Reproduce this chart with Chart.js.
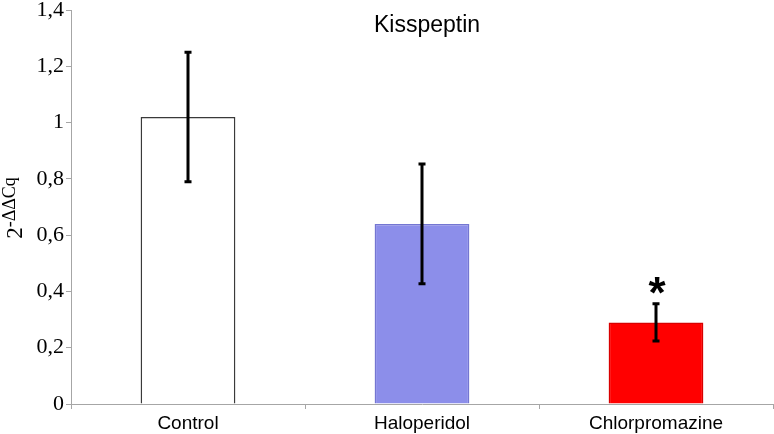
<!DOCTYPE html>
<html>
<head>
<meta charset="utf-8">
<script src="https://cdn.jsdelivr.net/npm/chart.js@4"></script>
<style>
  html, body { margin: 0; padding: 0; background: #fff; }
  #wrap { width: 774px; height: 434px; }
</style>
</head>
<body>
<div id="wrap"><canvas id="c" width="774" height="434"></canvas></div>
<script>
// Valores (expresión relativa 2^-ΔΔCq, media ± error)
var grupos = ["Control", "Haloperidol", "Chlorpromazine"];
var medias = [1.02, 0.64, 0.29];
var errores = [0.23, 0.213, 0.066];
var significativo = [false, false, true];
var ticksY = [0, 0.2, 0.4, 0.6, 0.8, 1, 1.2, 1.4];

var relleno = ["#ffffff", "#8c8eea", "#ff0000"];
var borde = ["#3a3a3a", "#7476d2", "#d80000"];

var SERIF = "'Liberation Serif', 'Times New Roman', serif";
var SANS = "'Liberation Sans', Arial, sans-serif";

// Barras de error, título interior, asterisco y etiqueta del eje Y con superíndice
var extras = {
    id: "extras",
    afterDatasetsDraw: function (chart) {
        var ctx = chart.ctx;
        var x = chart.scales.x, y = chart.scales.y;
        ctx.save();
        ctx.strokeStyle = "#000";
        ctx.lineWidth = 3;
        for (var i = 0; i < medias.length; i++) {
            var cx = x.getPixelForValue(i);
            var yt = y.getPixelForValue(medias[i] + errores[i]);
            var yb = y.getPixelForValue(medias[i] - errores[i]);
            ctx.beginPath();
            ctx.moveTo(cx, yt); ctx.lineTo(cx, yb);
            ctx.moveTo(cx - 3.5, yt); ctx.lineTo(cx + 3.5, yt);
            ctx.moveTo(cx - 3.5, yb); ctx.lineTo(cx + 3.5, yb);
            ctx.stroke();
            if (significativo[i]) {
                ctx.fillStyle = "#000";
                ctx.font = "bold 44px " + SANS;
                ctx.textAlign = "center";
                ctx.textBaseline = "alphabetic";
                ctx.fillText("*", cx + 1, yt + 4);
            }
        }
        // título
        ctx.fillStyle = "#000";
        ctx.font = "23px " + SANS;
        ctx.textAlign = "center";
        ctx.textBaseline = "middle";
        ctx.fillText("Kisspeptin", 427, 26);
        // etiqueta del eje Y: 2^-ΔΔCq
        ctx.translate(22, 208);
        ctx.rotate(-Math.PI / 2);
        ctx.textAlign = "left";
        ctx.textBaseline = "alphabetic";
        ctx.font = "23px " + SERIF;
        var wBase = ctx.measureText("2").width;
        ctx.font = "18px " + SERIF;
        var wSup = ctx.measureText("-ΔΔCq").width;
        var x0 = -(wBase + wSup) / 2;
        ctx.font = "23px " + SERIF;
        ctx.fillText("2", x0, 0);
        ctx.font = "18px " + SERIF;
        ctx.fillText("-ΔΔCq", x0 + wBase, -7);
        ctx.restore();
    }
};

new Chart(document.getElementById("c"), {
    type: "bar",
    data: {
        labels: grupos,
        datasets: [{
            data: medias,
            backgroundColor: relleno,
            borderColor: borde,
            borderWidth: 1.5,
            borderSkipped: "bottom",
            categoryPercentage: 1,
            barPercentage: 0.405
        }]
    },
    options: {
        responsive: false,
        animation: false,
        devicePixelRatio: 1,
        layout: { padding: { top: 10, right: 1, left: 0, bottom: 0 } },
        plugins: { legend: { display: false }, tooltip: { enabled: false } },
        scales: {
            x: {
                offset: true,
                grid: { offset: true, drawOnChartArea: false, color: "#a6a6a6", tickLength: 5 },
                border: { color: "#a6a6a6", width: 1 },
                ticks: {
                    color: "#000",
                    font: { family: SANS, size: 19 },
                    padding: 3
                },
                afterFit: function (s) { s.height = 30; }
            },
            y: {
                min: 0, max: 1.4,
                afterBuildTicks: function (s) {
                    s.ticks = ticksY.map(function (v) { return { value: v }; });
                },
                grid: { drawOnChartArea: false, color: "#a6a6a6", tickLength: 5 },
                border: { color: "#a6a6a6", width: 1 },
                ticks: {
                    color: "#000",
                    font: { family: SERIF, size: 22 },
                    padding: 2,
                    callback: function (v) { return String(Math.round(v * 10) / 10).replace(".", ","); }
                },
                afterFit: function (s) {
                    s.width = 71;
                    s.paddingTop = 0;
                    s.paddingBottom = 0;
                }
            }
        }
    },
    plugins: [extras]
});
</script>
</body>
</html>
